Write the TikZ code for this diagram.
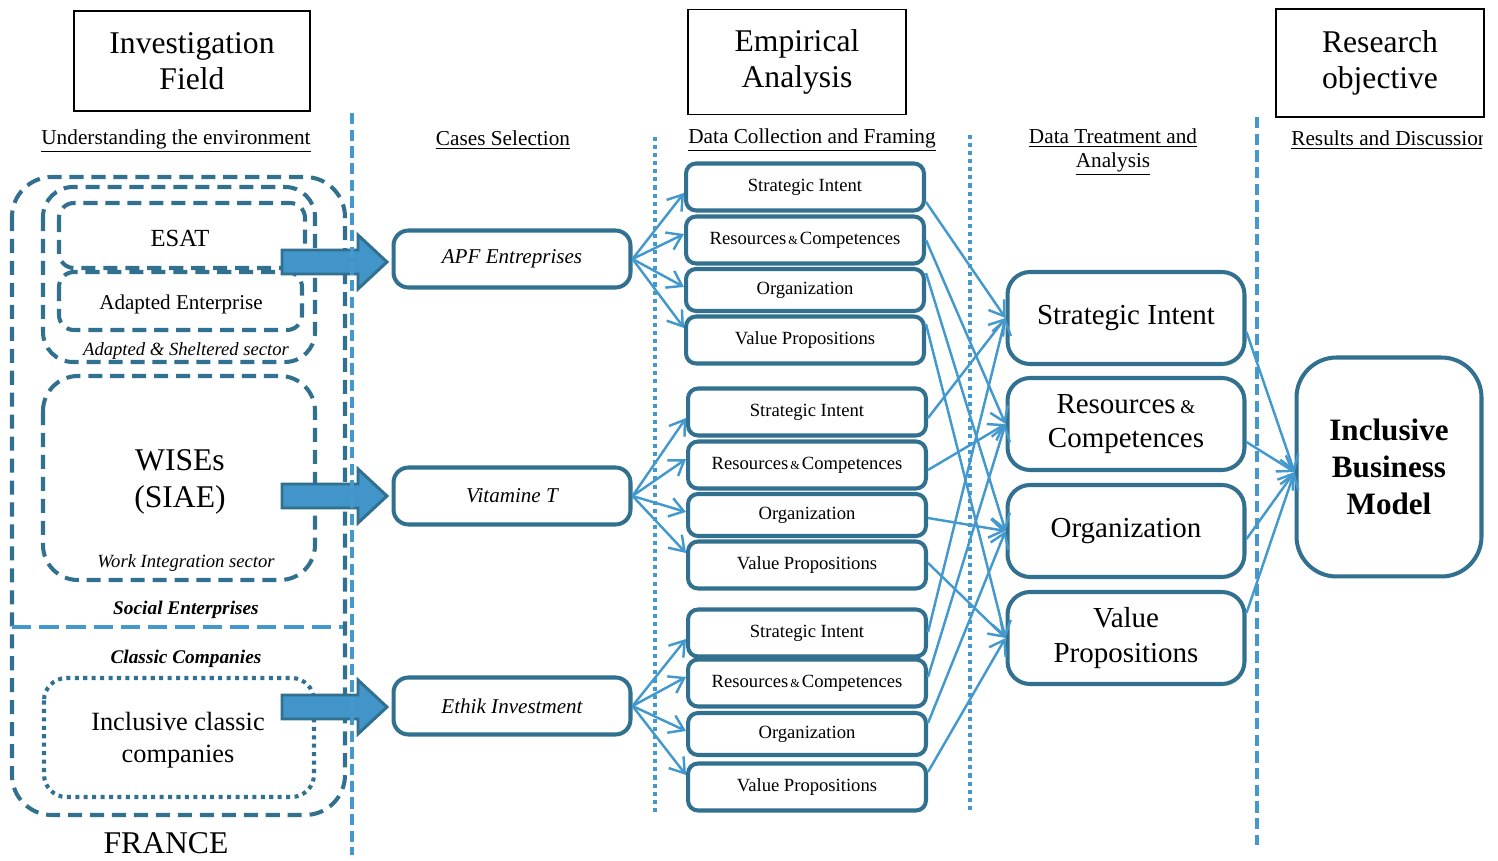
\documentclass[tikz,border=0pt]{standalone}
\usepackage{fontspec}
\setmainfont{Liberation Serif}
\usetikzlibrary{arrows.meta,calc}

\definecolor{darkblue}{HTML}{31708F}
\definecolor{lightblue}{HTML}{4399CE}

\tikzset{
  header/.style={draw=black, line width=1.1pt, align=center, font=\fontsize{18}{20.5}\selectfont},
  underlbl/.style={align=center, inner sep=0pt, font=\fontsize{12.1}{13.7}\selectfont},
  casebox/.style={draw=darkblue, fill=white, line width=2.3pt, rounded corners=0.3cm, minimum width=4.74cm, minimum height=1.14cm, font=\fontsize{12}{14}\selectfont\itshape},
  midbox/.style={draw=darkblue, fill=white, line width=2.3pt, rounded corners=0.2cm, minimum width=4.76cm, minimum height=0.94cm, font=\fontsize{10.6}{12}\selectfont},
  resbox/.style={draw=darkblue, fill=white, line width=2.3pt, rounded corners=0.45cm, minimum width=4.74cm, minimum height=1.84cm, align=center, font=\fontsize{16.5}{19.4}\selectfont},
  zone/.style={draw=darkblue, line width=2.3pt, dash pattern=on 8pt off 4.5pt},
  dotzone/.style={draw=darkblue, line width=2.3pt, dash pattern=on 2.3pt off 2.5pt},
  sepdash/.style={draw=lightblue, line width=2.3pt, dash pattern=on 6.5pt off 3pt},
  sepdot/.style={draw=lightblue, line width=2.3pt, dash pattern=on 2.3pt off 2.3pt},
  flow/.style={draw=lightblue, line width=1.4pt, -{Straight Barb[length=0.28cm,width=0.38cm]}},
  fatarrow/.style={draw=darkblue, line width=1.7pt, fill=lightblue!90!darkblue}
}

\begin{document}
\begin{tikzpicture}[x=0.02cm, y=-0.02cm]
\useasboundingbox (0,0) rectangle (1498,861);

% Headers
\node[header, minimum width=4.72cm, minimum height=2.0cm] (hinv) at (192,61) {Investigation\\Field};
\node[header, minimum width=4.36cm, minimum height=2.1cm] (hemp) at (797,62) {Empirical\\Analysis};
\node[header, minimum width=4.16cm, minimum height=2.16cm] (hres) at (1380,63) {Research\\objective};

\node[underlbl] (lenv) at (176,141) {\underline{Understanding the environment}};
\node[underlbl] (lcases) at (503,140) {\underline{Cases Selection}};
\node[underlbl] (lcoll) at (812,140) {\underline{Data Collection and Framing}};
\node[underlbl] (ltreat) at (1113,152) {\underline{Data Treatment and}\\\underline{Analysis}};
\begin{scope}
  \clip (1280,120) rectangle (1482,165);
  \node[underlbl, anchor=west] (lres) at (1291,140) {\underline{Results and Discussion}};
\end{scope}

% Investigation field
\draw[zone, rounded corners=0.8cm] (12,177) rectangle (345,815);
\draw[zone, rounded corners=0.6cm] (43,187) rectangle (315,362);
\draw[zone, rounded corners=0.3cm] (59,203) rectangle (305,268);
\draw[zone, rounded corners=0.3cm] (59,272) rectangle (302,330);
\draw[zone, rounded corners=0.7cm] (43,376) rectangle (315,580);
\draw[dotzone, rounded corners=0.45cm] (44,678) rectangle (314,797);
\draw[lightblue, line width=1.8pt, dash pattern=on 11pt off 4.5pt] (12,627) -- (343,627);

\node[font=\fontsize{14}{16}\selectfont] (esat) at (180,238) {ESAT};
\node[font=\fontsize{12}{14}\selectfont] (adapt) at (181,304) {Adapted Enterprise};
\node[font=\fontsize{10.6}{12}\selectfont\itshape] (sheltered) at (186,351) {Adapted \& Sheltered sector};
\node[align=center, font=\fontsize{18}{21}\selectfont] (wises) at (180,482) {WISEs\\(SIAE)};
\node[font=\fontsize{10.6}{12}\selectfont\itshape] (wisector) at (186,563) {Work Integration sector};
\node[font=\fontsize{11}{13}\selectfont\bfseries\itshape] (social) at (186,610) {Social Enterprises};
\node[font=\fontsize{11}{13}\selectfont\bfseries\itshape] (classic) at (186,659) {Classic Companies};
\node[align=center, font=\fontsize{15}{18.2}\selectfont] (inclusive) at (178,740) {Inclusive classic\\companies};
\node[font=\fontsize{18}{20}\selectfont] (france) at (166,843) {FRANCE};

% Fat arrows to the cases
\foreach \y in {262,496,707}
  \draw[fatarrow] (282,{\y-12}) -- (358,{\y-12}) -- (358,{\y-27}) -- (387,\y)
    -- (358,{\y+27}) -- (358,{\y+12}) -- (282,{\y+12}) -- cycle;

% Separators
\draw[sepdash] (352,113) -- (352,855);
\draw[sepdot] (655,137) -- (655,815);
\draw[sepdot] (970,135) -- (970,812);
\draw[sepdash] (1257,117) -- (1257,845);

% Cases
\node[casebox] (apf) at (512,259) {APF Entreprises};
\node[casebox] (vit) at (512,496) {Vitamine T};
\node[casebox] (ethik) at (512,706) {Ethik Investment};

% Data collection boxes
\foreach \g/\x/\ya/\yb/\yc/\yd in {1/805/187/240/290/340, 2/807/412/465/515/565, 3/807/633/683/734/787} {
  \node[midbox] (si\g) at (\x,\ya) {Strategic Intent};
  \node[midbox] (rc\g) at (\x,\yb) {Resources{\fontsize{7}{8}\selectfont\,\&\,}Competences};
  \node[midbox, minimum height=0.84cm] (org\g) at (\x,\yc) {Organization};
  \node[midbox] (vp\g) at (\x,\yd) {Value Propositions};
}

% Data treatment boxes
\node[resbox] (rsi) at (1126,318) {Strategic Intent};
\node[resbox] (rrc) at (1126,424) {Resources{\fontsize{11}{12}\selectfont\ \&}\\Competences};
\node[resbox] (rorg) at (1126,531) {Organization};
\node[resbox] (rvp) at (1126,638) {Value\\Propositions};

% Result
\node[resbox, rounded corners=0.8cm, minimum width=3.7cm, minimum height=4.38cm,
  font=\fontsize{17.7}{21}\selectfont\bfseries] (ibm) at (1389,467) {Inclusive\\Business\\Model};

% Cases -> collection
\foreach \c/\g in {apf/1, vit/2, ethik/3} {
  \draw[flow] (\c.east) -- ($(si\g.west)+(0,6)$);
  \draw[flow] (\c.east) -- ($(rc\g.west)+(0,-6)$);
  \draw[flow] (\c.east) -- ($(org\g.west)+(0,-3)$);
  \draw[flow] (\c.east) -- ($(vp\g.west)+(0,-12)$);
}

% Collection -> treatment
\foreach \g/\a/\b/\c/\d in {1/15/0/-17/-16, 2/6/5/3/-2, 3/-1/-6/-11/-15} {
  \draw[flow] ($(si\g.east)+(0,\a)$) -- (rsi.west);
  \draw[flow] ($(rc\g.east)+(0,\b)$) -- (rrc.west);
  \draw[flow] ($(org\g.east)+(0,\c)$) -- (rorg.west);
  \draw[flow] ($(vp\g.east)+(0,\d)$) -- (rvp.west);
}

% Treatment -> result
\foreach \n/\o in {rsi/14, rrc/18, rorg/8, rvp/-25}
  \draw[flow] ($(\n.east)+(0,\o)$) -- ($(ibm.west)+(0,5)$);

\end{tikzpicture}
\end{document}
